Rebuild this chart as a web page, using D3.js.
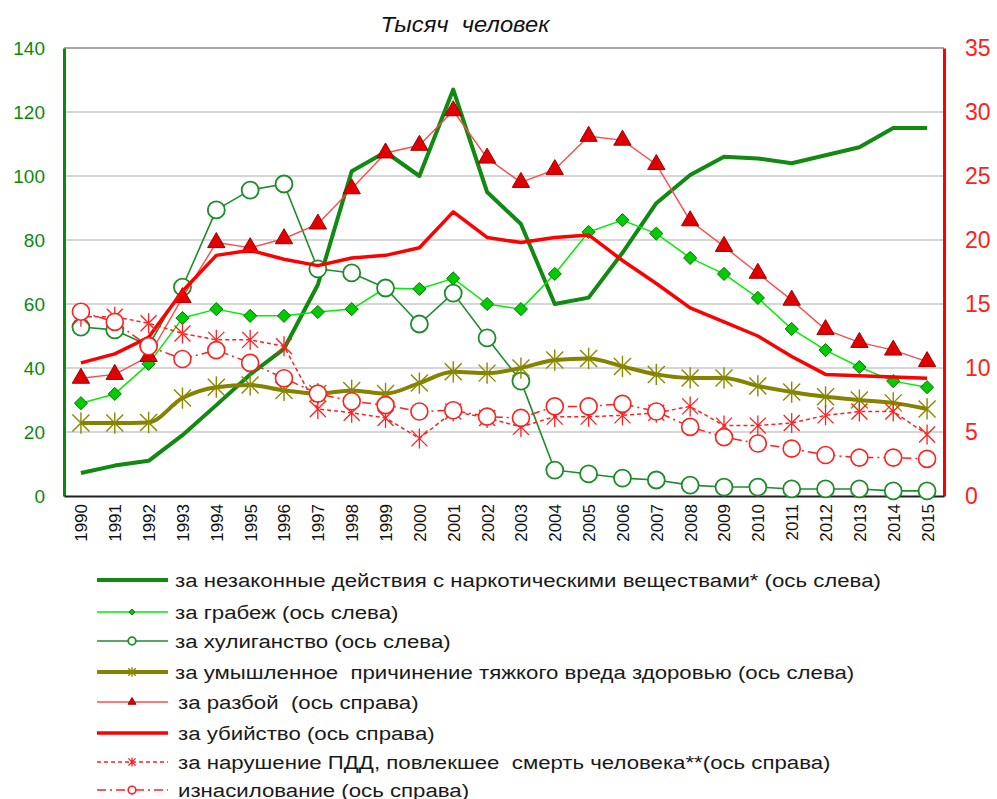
<!DOCTYPE html>
<html>
<head>
<meta charset="utf-8">
<script src="https://cdn.jsdelivr.net/npm/d3@7"></script>
<style>
  body { margin: 0; background: #fff; }
  svg { font-family: "Liberation Sans", Arial, sans-serif; }
</style>
</head>
<body>
<svg id="chart"></svg>
<script>
const years = d3.range(1990, 2016);
const leftTicks = [0, 20, 40, 60, 80, 100, 120, 140];
const rightTicks = [0, 5, 10, 15, 20, 25, 30, 35];

// left axis series
const drugs = [7.2, 9.5, 11, 19, 28.4, 38, 46, 66, 101.5, 107.5, 100, 127, 95, 85, 60, 62, 76, 91.5, 100.3, 106, 105.5, 104, 106.5, 109, 115, 115];
const robbery = [29, 31.9, 41.3, 55.6, 58.4, 56.3, 56.3, 57.5, 58.4, 65, 64.7, 68, 60, 58.4, 69.4, 82.5, 86.2, 82, 74.4, 69.4, 61.9, 52.2, 45.6, 40.3, 35.9, 34];
const hooligan = [52.8, 51.9, 47, 65.3, 89.4, 95.6, 97.5, 71, 69.7, 65, 53.75, 63.4, 49.4, 35.9, 8.1, 6.9, 5.6, 5, 3.4, 2.8, 2.8, 2.2, 2.2, 2.2, 1.6, 1.6];
const harm = [22.8, 22.8, 23, 30.6, 34, 34.7, 33, 32, 33, 32, 35.3, 38.8, 38.4, 40, 42.5, 43, 40.5, 38, 36.9, 36.9, 34.4, 32.5, 31, 30, 29.1, 27.2];
// right axis series
const assault = [9.2, 9.5, 10.9, 15.5, 19.8, 19.4, 20.1, 21.25, 24, 26.8, 27.4, 30.1, 26.4, 24.5, 25.5, 28.1, 27.8, 25.9, 21.5, 19.5, 17.4, 15.3, 13, 12, 11.4, 10.5];
const murder = [10.4, 11.1, 12.4, 16.0, 18.8, 19.2, 18.5, 18.0, 18.6, 18.8, 19.4, 22.2, 20.2, 19.8, 20.2, 20.4, 18.4, 16.6, 14.7, 13.6, 12.5, 10.9, 9.5, 9.4, 9.3, 9.2];
const traffic = [14.0, 14.0, 13.5, 12.7, 12.2, 12.2, 11.7, 6.8, 6.5, 6.1, 4.5, 6.6, 6.1, 5.4, 6.2, 6.2, 6.3, 6.5, 7.0, 5.5, 5.5, 5.7, 6.3, 6.6, 6.6, 4.8];
const rape = [14.4, 13.6, 11.7, 10.7, 11.4, 10.4, 9.2, 8.0, 7.4, 7.1, 6.6, 6.7, 6.2, 6.1, 7.0, 7.0, 7.2, 6.6, 5.4, 4.6, 4.1, 3.7, 3.2, 3.0, 3.0, 2.9];

const labels = [
  "за незаконные действия с наркотическими веществами* (ось слева)",
  "за грабеж (ось слева)",
  "за хулиганство (ось слева)",
  "за умышленное  причинение тяжкого вреда здоровью (ось слева)",
  "за разбой  (ось справа)",
  "за убийство (ось справа)",
  "за нарушение ПДД, повлекшее  смерть человека**(ось справа)",
  "изнасилование (ось справа)"
];

const width = 997, height = 799;
const plot = { left: 64, right: 944, top: 48, bottom: 496 };

const svg = d3.select("#chart").attr("width", width).attr("height", height);

const x = d3.scalePoint().domain(years).range([plot.left, plot.right]).padding(0.5);
const yL = d3.scaleLinear().domain([0, 140]).range([plot.bottom, plot.top]);
const yR = d3.scaleLinear().domain([0, 35]).range([plot.bottom, plot.top]);

// asterisk marker: X plus vertical bar
function starPath(s) {
  const h = s / 2;
  return `M${-h},${-h}L${h},${h}M${-h},${h}L${h},${-h}M0,${-h * 1.25}L0,${h * 1.25}`;
}

const series = [
  { values: drugs, y: yL, color: "#118a11", width: 4, curve: d3.curveLinear, marker: null },
  { values: robbery, y: yL, color: "#00ee00", width: 1.5, curve: d3.curveLinear,
    marker: { type: "diamond", size: 110, fill: "#00cc00", stroke: "#0a6e0a", sw: 1 } },
  { values: hooligan, y: yL, color: "#1d8c2b", width: 1.6, curve: d3.curveLinear,
    marker: { type: "circle", r: 8.5, fill: "#fff", stroke: "#1d8c2b", sw: 1.8 } },
  { values: harm, y: yL, color: "#858200", width: 4, curve: d3.curveMonotoneX,
    marker: { type: "star", size: 17, stroke: "#8a8700", sw: 1.4 } },
  { values: assault, y: yR, color: "#ff4a4a", width: 1.4, curve: d3.curveLinear,
    marker: { type: "triangle", size: 130, fill: "#e00000", stroke: "#a00000", sw: 1 } },
  { values: murder, y: yR, color: "#ff0000", width: 3.5, curve: d3.curveLinear, marker: null },
  { values: traffic, y: yR, color: "#ff2020", width: 1.5, dash: "4,3", curve: d3.curveLinear,
    marker: { type: "star", size: 16, stroke: "#ff2020", sw: 1.3 } },
  { values: rape, y: yR, color: "#ff2020", width: 1.5, dash: "9,4,2,4", curve: d3.curveLinear,
    marker: { type: "circle", r: 8.5, fill: "#fff", stroke: "#ff2020", sw: 1.6 } }
];

// gridlines
svg.append("g")
  .selectAll("line")
  .data(leftTicks.filter(d => d > 0))
  .join("line")
  .attr("x1", plot.left).attr("x2", plot.right)
  .attr("y1", d => yL(d)).attr("y2", d => yL(d))
  .attr("stroke", d => d === 140 ? "#a8a8a8" : "#c8c8c8")
  .attr("stroke-width", d => d === 140 ? 2 : 1.5);

// axes
const axL = svg.append("g")
  .attr("transform", `translate(${plot.left},0)`)
  .call(d3.axisLeft(yL).tickValues(leftTicks).tickSize(0).tickPadding(19));
axL.select(".domain").attr("stroke", "#0a8a0a").attr("stroke-width", 3);
axL.selectAll("text").attr("fill", "#0a8a0a").style("font-size", "19px");

const axR = svg.append("g")
  .attr("transform", `translate(${plot.right},0)`)
  .call(d3.axisRight(yR).tickValues(rightTicks).tickSize(0).tickPadding(21));
axR.select(".domain").attr("stroke", "#ff0000").attr("stroke-width", 3);
axR.selectAll("text").attr("fill", "#ff2020").style("font-size", "23px");

const axB = svg.append("g")
  .attr("transform", `translate(0,${plot.bottom})`)
  .call(d3.axisBottom(x).tickSize(0).tickPadding(0));
axB.select(".domain").attr("stroke", "#222").attr("stroke-width", 2);
axB.selectAll("text")
  .attr("fill", "#111")
  .style("font-size", "17px")
  .attr("text-anchor", "end")
  .attr("transform", "rotate(-90)")
  .attr("x", -8)
  .attr("y", 0)
  .attr("dy", "0.35em");

// title
svg.append("text")
  .attr("transform", "translate(465,32) scale(1.08,1)")
  .attr("text-anchor", "middle")
  .attr("font-style", "italic")
  .attr("xml:space", "preserve")
  .style("font-size", "22px")
  .attr("fill", "#111")
  .text("Тысяч  человек");

function drawMarker(g, m, cx, cy, scale) {
  if (m.type === "circle") {
    g.append("circle").attr("cx", cx).attr("cy", cy).attr("r", m.r * scale)
      .attr("fill", m.fill).attr("stroke", m.stroke).attr("stroke-width", m.sw);
  } else if (m.type === "star") {
    g.append("path").attr("transform", `translate(${cx},${cy})`).attr("d", starPath(m.size * scale))
      .attr("fill", "none").attr("stroke", m.stroke).attr("stroke-width", m.sw);
  } else {
    const sym = m.type === "diamond" ? d3.symbolDiamond2 : d3.symbolTriangle;
    g.append("path").attr("transform", `translate(${cx},${cy})`)
      .attr("d", d3.symbol().type(sym).size(m.size * scale * scale)())
      .attr("fill", m.fill).attr("stroke", m.stroke).attr("stroke-width", m.sw);
  }
}

// series
series.forEach(s => {
  const g = svg.append("g");
  const line = d3.line().x((d, i) => x(years[i])).y(d => s.y(d)).curve(s.curve);
  g.append("path")
    .attr("d", line(s.values))
    .attr("fill", "none")
    .attr("stroke", s.color)
    .attr("stroke-width", s.width)
    .attr("stroke-dasharray", s.dash || null)
    .attr("stroke-linejoin", "round");
  if (s.marker) {
    s.values.forEach((v, i) => drawMarker(g, s.marker, x(years[i]), s.y(v), 1));
  }
});

// legend
const legendRows = [580, 612, 641, 672, 702, 733, 762, 790];
const legend = svg.append("g");
series.forEach((s, i) => {
  const yy = legendRows[i];
  const g = legend.append("g");
  g.append("line")
    .attr("x1", 97).attr("x2", 168).attr("y1", yy).attr("y2", yy)
    .attr("stroke", s.color)
    .attr("stroke-width", s.width)
    .attr("stroke-dasharray", s.dash || null);
  if (s.marker) drawMarker(g, s.marker, 132, yy, 0.45);
  g.append("text")
    .attr("transform", `translate(${i < 4 ? 175 : 178},${yy}) scale(1.17,1)`)
    .attr("dy", "0.35em")
    .attr("xml:space", "preserve")
    .style("font-size", "19px")
    .attr("fill", "#1a1a1a")
    .text(labels[i]);
});
</script>
</body>
</html>
